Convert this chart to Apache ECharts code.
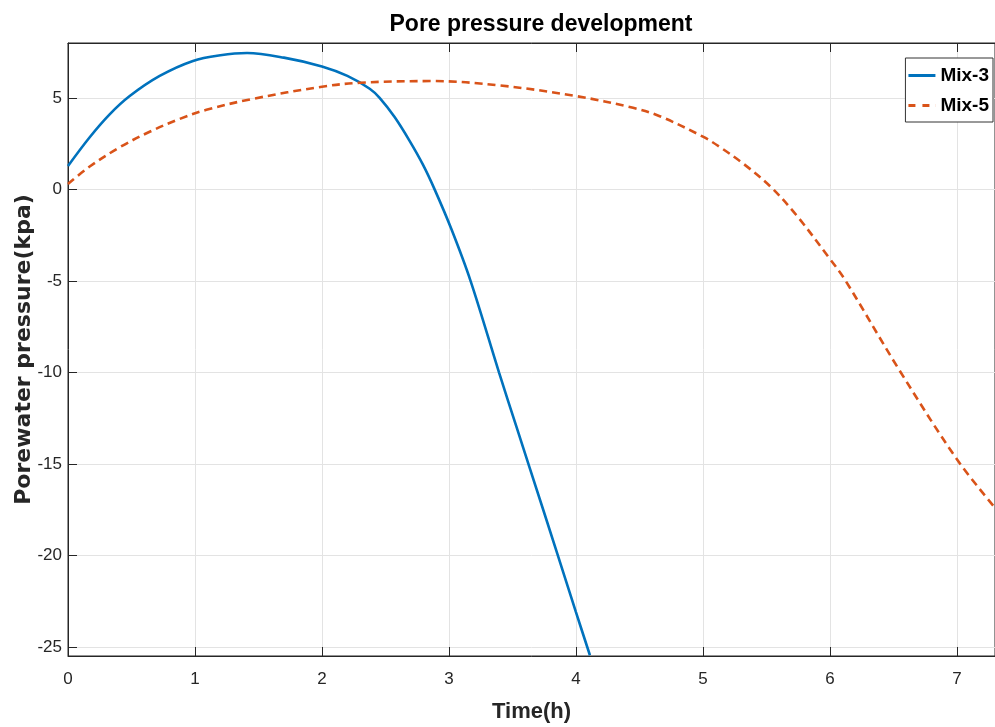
<!DOCTYPE html>
<html>
<head>
<meta charset="utf-8">
<title>Pore pressure development</title>
<script src="https://cdn.jsdelivr.net/npm/echarts@6/dist/echarts.min.js"></script>
<style>
  html, body { margin: 0; padding: 0; background: #fff; }
  #poreChart { width: 995px; height: 727px; }
</style>
</head>
<body>
<div id="poreChart"></div>
<script>
// values
const mix3Time = [0, 0.171, 0.328, 0.486, 0.722, 0.984, 1.2, 1.41, 1.7, 2.0, 2.2, 2.376, 2.454, 2.572, 2.69, 2.795, 2.887, 3.019, 3.17, 3.394, 3.535, 3.635, 3.853, 4.0, 4.11];
const mix3Pressure = [1.28, 2.85, 4.1, 5.1, 6.2, 7.02, 7.33, 7.45, 7.2, 6.72, 6.2, 5.5, 5.0, 3.95, 2.65, 1.35, 0, -2.17, -5, -10, -13.05, -15.2, -19.9, -23.1, -25.46];
const mix5Time = [0, 0.171, 0.407, 0.643, 0.88, 1.09, 1.457, 2.0, 2.3, 2.87, 3.4, 4.0, 4.45, 4.66, 5.0, 5.13, 5.315, 5.525, 5.735, 6.0, 6.115, 6.54, 7.0, 7.3];
const mix5Pressure = [0.3, 1.25, 2.3, 3.15, 3.85, 4.35, 4.95, 5.61, 5.83, 5.92, 5.68, 5.1, 4.46, 4.0, 2.88, 2.33, 1.42, 0.2, -1.4, -3.8, -4.9, -9.8, -14.75, -17.4];
const xTicks = [0, 1, 2, 3, 4, 5, 6, 7];
const yTicks = [-25, -20, -15, -10, -5, 0, 5];

const sans = "'Liberation Sans', Arial, sans-serif";
const wide = "'DejaVu Sans', 'Liberation Sans', sans-serif";
const axisColor = '#262626';
const gridColor = '#e3e3e3';

const pairs = (xs, ys) => xs.map((x, i) => [x, ys[i]]);

const chart = echarts.init(document.getElementById('poreChart'));

chart.setOption({
    backgroundColor: '#fff',
    animation: false,
    title: {
        text: 'Pore pressure development',
        left: 536,
        top: 8,
        textAlign: 'center',
        textStyle: { fontFamily: sans, fontSize: 23, fontWeight: 'bold', color: '#000' }
    },
    legend: {
        right: 2,
        top: 58,
        orient: 'vertical',
        align: 'left',
        itemWidth: 27,
        itemHeight: 3,
        itemGap: 11,
        padding: [8, 4, 7, 3],
        backgroundColor: '#fff',
        borderColor: '#333',
        borderWidth: 1,
        itemStyle: { borderWidth: 0 },
        textStyle: { fontFamily: sans, fontSize: 19, fontWeight: 'bold', color: '#000' },
        data: [
            { name: 'Mix-3', icon: 'path://M0,0h27v3h-27z' },
            { name: 'Mix-5', icon: 'path://M0,0h7v3h-7z M14,0h7v3h-7z M26.9,0h0.1v3h-0.1z' }
        ]
    },
    grid: {
        left: 68,
        right: 0,
        top: 43,
        bottom: 71,
        outerBoundsMode: 'none',
        show: true,
        borderColor: axisColor,
        borderWidth: 1
    },
    xAxis: [
        {
            type: 'value',
            min: 0,
            max: 7.3,
            name: 'Time(h)',
            nameLocation: 'middle',
            nameGap: 45,
            nameTextStyle: { fontFamily: sans, fontSize: 22, fontWeight: 'bold', color: '#262626' },
            axisLine: { show: true, onZero: false, lineStyle: { color: axisColor, width: 1 } },
            axisTick: { show: true, inside: true, length: 9, customValues: xTicks, lineStyle: { color: axisColor } },
            axisLabel: { customValues: xTicks, margin: 15, fontFamily: sans, fontSize: 17, color: '#262626' },
            splitLine: { show: true, lineStyle: { color: gridColor, width: 1 } }
        },
        {
            type: 'value',
            position: 'top',
            min: 0,
            max: 7.3,
            axisLine: { show: true, onZero: false, lineStyle: { color: axisColor, width: 1 } },
            axisTick: { show: true, inside: true, length: 9, customValues: xTicks, lineStyle: { color: axisColor } },
            axisLabel: { show: false },
            splitLine: { show: false }
        }
    ],
    yAxis: {
        type: 'value',
        min: -25.5,
        max: 8,
        name: 'Porewater pressure(kpa)',
        nameLocation: 'middle',
        nameGap: 33,
        nameMoveOverlap: false,
        nameTextStyle: { fontFamily: wide, fontSize: 22, fontWeight: 'bold', color: '#262626' },
        axisLine: { show: true, onZero: false, lineStyle: { color: axisColor, width: 1 } },
        axisTick: { show: true, inside: true, length: 9, customValues: yTicks, lineStyle: { color: axisColor } },
        axisLabel: { customValues: yTicks, margin: 6, fontFamily: sans, fontSize: 17, color: '#262626' },
        splitLine: { show: true, lineStyle: { color: gridColor, width: 1 } }
    },
    series: [
        {
            name: 'Mix-3',
            type: 'line',
            data: pairs(mix3Time, mix3Pressure),
            smooth: 0.35,
            symbol: 'none',
            lineStyle: { color: '#0072BD', width: 2.6 },
            itemStyle: { color: '#0072BD' }
        },
        {
            name: 'Mix-5',
            type: 'line',
            data: pairs(mix5Time, mix5Pressure),
            smooth: 0.35,
            symbol: 'none',
            lineStyle: { color: '#D95319', width: 2.6, type: [8, 5] },
            itemStyle: { color: '#D95319' }
        }
    ]
});
</script>
</body>
</html>
